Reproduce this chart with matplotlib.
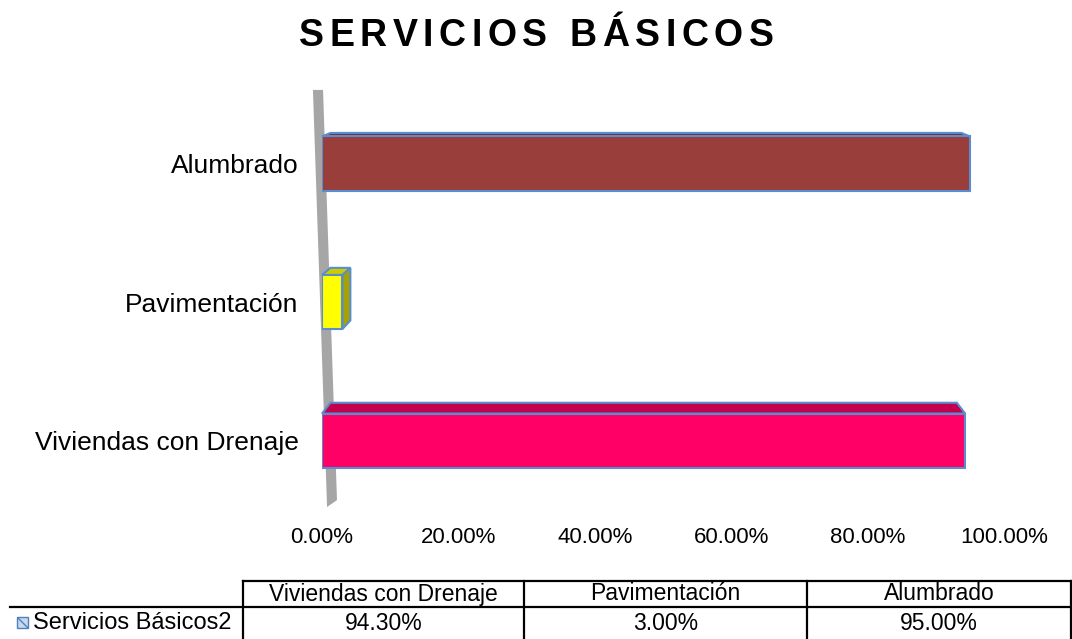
import matplotlib
matplotlib.use('Agg')
import matplotlib.pyplot as plt
from matplotlib.patches import Polygon, Rectangle
from matplotlib.lines import Line2D

# ---- data ----
categories = ['Viviendas con Drenaje', 'Pavimentación', 'Alumbrado']
values = [0.943, 0.03, 0.95]
series_name = 'Servicios Básicos2'
xticks = [0.0, 0.2, 0.4, 0.6, 0.8, 1.0]
title = 'SERVICIOS BÁSICOS'

# ---- styles ----
front_colors = ['#ff0066', '#ffff00', '#993e3b']
top_colors = ['#c2004e', '#cccc00', '#7c2d2b']
side_colors = ['#b0004a', '#a8a200', '#6f2422']
edge_color = '#5a8dd0'

plt.rcParams['font.family'] = ['Liberation Sans', 'DejaVu Sans']

W, H = 1072, 639
fig = plt.figure(figsize=(W / 100, H / 100), dpi=100)


def fx(px):
    return px / W


def fy(py):
    return 1 - py / H


ax_l, ax_r, ax_t, ax_b = 322, 1004, 88, 512
ax = fig.add_axes([fx(ax_l), fy(ax_b), (ax_r - ax_l) / W, (ax_b - ax_t) / H])
ax.set_xlim(0, 1.0)
ax.set_ylim(-0.516, 2.545)
for s in ax.spines.values():
    s.set_visible(False)

# perspective helpers (vanishing point in data coords)
vpx, vpy, k = 0.476, 3.18, 0.026


def back(x, y):
    return (x + k * (vpx - x), y + k * (vpy - y))


# back wall (gray slanted strip at zero)
wall = Polygon([(-0.0133, 2.531), (0.0015, 2.531), (0.022, -0.43), (0.0074, -0.48)],
               closed=True, facecolor='#a6a6a6', edgecolor='none', zorder=1, clip_on=False)
ax.add_patch(wall)

h = 0.39
ypos = list(range(len(categories)))
for i, (y, v) in enumerate(zip(ypos, values)):
    x0, x1 = 0.0, v
    yt, yb = y + h / 2, y - h / 2
    top = Polygon([(x0, yt), (x1, yt), back(x1, yt), back(x0, yt)], closed=True,
                  facecolor=top_colors[i], edgecolor=edge_color, lw=1.5, zorder=2, clip_on=False)
    ax.add_patch(top)
    if x1 < vpx:
        side = Polygon([(x1, yb), (x1, yt), back(x1, yt), back(x1, yb)], closed=True,
                       facecolor=side_colors[i], edgecolor=edge_color, lw=1.5, zorder=2, clip_on=False)
        ax.add_patch(side)

ax.barh(ypos, values, height=h, left=0, color=front_colors, edgecolor=edge_color,
        linewidth=1.5, zorder=3)

ax.set_yticks(ypos)
ax.set_yticklabels(categories, fontsize=19)
ax.set_xticks(xticks)
ax.set_xticklabels([f'{t * 100:.2f}%' for t in xticks], fontsize=16)
ax.tick_params(axis='y', length=0, pad=17)
ax.tick_params(axis='x', length=0, pad=11)

# ---- title with letter spacing ----
renderer = fig.canvas.get_renderer()
tsize = 27
widths = []
for ch in title:
    if ch == ' ':
        widths.append(0.278 * tsize * 100 / 72)
        continue
    t = fig.text(0, 0, ch, fontsize=tsize, fontweight='bold')
    widths.append(t.get_window_extent(renderer).width)
    t.remove()
target_w = 475
gap = (target_w - sum(widths)) / (len(title) - 1)
xcur = 536 - target_w / 2
for ch, w in zip(title, widths):
    if ch != ' ':
        fig.text(fx(xcur), fy(46), ch, fontsize=tsize, fontweight='bold', ha='left', va='baseline')
    xcur += w + gap

# ---- data table ----
col_edges = [243, 524, 807, 1071]
lw = 1.6
fig.add_artist(Line2D([fx(243), fx(1071)], [fy(581), fy(581)], color='black', lw=lw))
fig.add_artist(Line2D([fx(10), fx(1071)], [fy(607), fy(607)], color='black', lw=lw))
for xe in col_edges:
    fig.add_artist(Line2D([fx(xe), fx(xe)], [fy(581), fy(639)], color='black', lw=lw))
for j, (cat, v) in enumerate(zip(categories, values)):
    cx = (col_edges[j] + col_edges[j + 1]) / 2
    fig.text(fx(cx), fy(594), cat, fontsize=16.5, ha='center', va='center')
    fig.text(fx(cx), fy(623), f'{v * 100:.2f}%', fontsize=16.5, ha='center', va='center')

# legend key + row header
fig.add_artist(Rectangle((fx(17), fy(628)), 11 / W, 11 / H, transform=fig.transFigure,
                         facecolor='#c6d9f1', edgecolor='#4f81bd', lw=1, hatch='\\\\\\'))
fig.text(fx(33), fy(623), series_name, fontsize=17, ha='left', va='center')

fig.savefig('out.png', dpi=100)
